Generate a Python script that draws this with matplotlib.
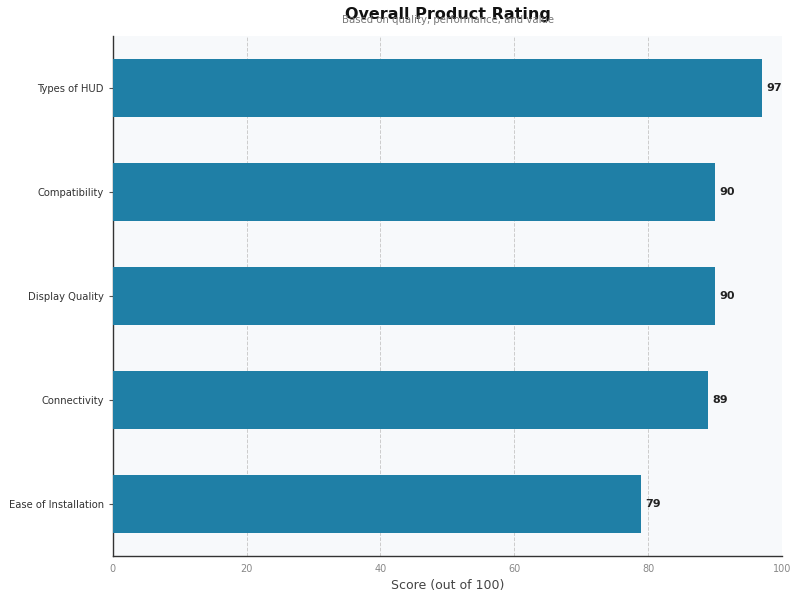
import matplotlib
matplotlib.use("Agg")
import matplotlib.pyplot as plt

categories = ["Ease of Installation", "Connectivity", "Display Quality", "Compatibility", "Types of HUD"]
scores = [79, 89, 90, 90, 97]
xticks = [0, 20, 40, 60, 80, 100]

fig = plt.figure(figsize=(8, 6), dpi=100)
ax = fig.add_axes([0.141, 0.0733, 0.8365, 0.8667])
ax.set_facecolor("#f7f9fb")
bars = ax.barh(categories, scores, height=0.55, color="#1f7fa6", zorder=3)
for b, v in zip(bars, scores):
    ax.text(b.get_width() + 0.6, b.get_y() + b.get_height() / 2, str(v),
            va="center", ha="left", fontsize=8, fontweight="bold", color="#222222", zorder=4)
ax.set_xlim(0, 100)
ax.set_ylim(-0.5, 4.5)
ax.set_xticks(xticks)
ax.tick_params(axis="x", labelsize=7, colors="#888888", length=0, pad=6)
ax.tick_params(axis="y", labelsize=7.2, labelcolor="#333333", color="#555555", length=3)
ax.xaxis.grid(True, linestyle="--", color="#cccccc", linewidth=0.7, zorder=0)
ax.set_axisbelow(True)
for s in ["top", "right"]:
    ax.spines[s].set_visible(False)
for s in ["left", "bottom"]:
    ax.spines[s].set_color("#333333")
    ax.spines[s].set_linewidth(1.0)
ax.set_xlabel("Score (out of 100)", fontsize=9, color="#444444", labelpad=3)
fig.text(0.56, 0.975, "Overall Product Rating", ha="center", va="center",
         fontsize=11.5, fontweight="bold", color="#111111")
fig.text(0.56, 0.967, "Based on quality, performance, and value", ha="center", va="center",
         fontsize=7.3, color="#777777")
fig.savefig("out.png", dpi=100, facecolor="white")
